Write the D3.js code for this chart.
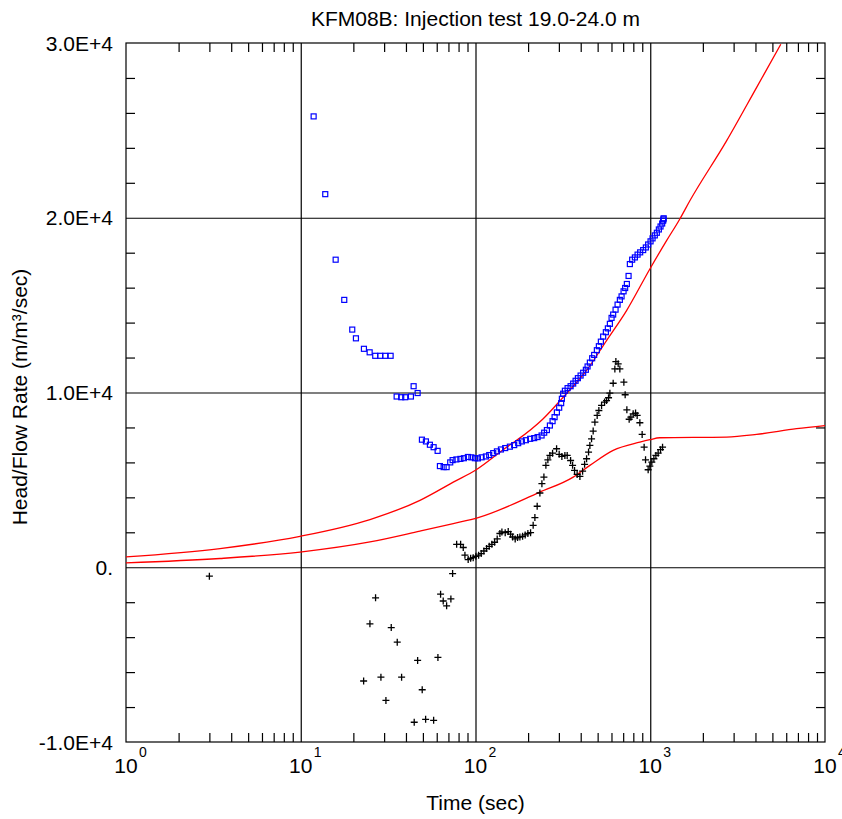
<!DOCTYPE html>
<html>
<head>
<meta charset="utf-8">
<script src="https://cdn.jsdelivr.net/npm/d3@7"></script>
<style>
  body { margin: 0; background: #fff; }
  svg text { font-family: "Liberation Sans", Arial, sans-serif; fill: #000; }
</style>
</head>
<body>
<div id="chart"></div>
<script>
// measured head/flow (blue squares)
var blueT = [11.85, 13.81, 15.84, 17.74, 19.71, 20.69, 22.99, 24.79, 26.68, 28.5,
  30.44, 32.68, 35.38, 37.58, 39.62, 42.7, 44.25, 46.65, 49.36, 52.03,
  54.83, 57.59, 60.71, 62.57, 65.7, 68.35, 71.67, 73.96, 77.75, 81.95,
  85.8, 90.45, 94.75, 99.2, 103.2, 108.4, 114.7, 119.8, 126.3, 132.6,
  139.8, 147.9, 157.3, 166.5, 175.5, 184.2, 194.2, 205.6, 216.7, 226.6,
  238.9, 247.2, 256.2, 266.5, 276.1, 283.5, 292.2, 301.2, 309.2, 312.1,
  317.5, 324.7, 336.5, 350.1, 362.3, 373.9, 385.4, 399.4, 413.2, 428.2,
  437.9, 451.3, 465.2, 477.6, 494.9, 508.1, 521.7, 537.7, 557.2, 572.1,
  587.4, 600.7, 613.5, 633.2, 650.1, 670.1, 685.3, 703.6, 718.5, 734.8,
  751.5, 764.4, 788, 816.6, 846.2, 875.6, 910.9, 943.7, 972.7, 1004,
  1031, 1062, 1091, 1120, 1145, 1170, 1185, 1190, 1193];
var blueV = [25800, 21350, 17600, 15300, 13600, 13100, 12500, 12300, 12100, 12100,
  12100, 12100, 9770, 9730, 9730, 9770, 10360, 9970, 7300, 7200,
  7010, 6870, 6660, 5790, 5730, 5730, 6000, 6130, 6170, 6200,
  6240, 6310, 6290, 6240, 6230, 6290, 6340, 6420, 6530, 6630,
  6740, 6820, 6900, 6990, 7100, 7200, 7270, 7350, 7390, 7450,
  7540, 7700, 7850, 8110, 8360, 8590, 8860, 9130, 9390, 9640,
  9930, 10100, 10250, 10360, 10510, 10670, 10820, 10970, 11130, 11300,
  11490, 11710, 11960, 12150, 12420, 12650, 12910, 13200, 13450, 13670,
  13930, 14270, 14460, 14740, 15030, 15300, 15500, 15790, 15980, 16210,
  16670, 17350, 17600, 17730, 17890, 18020, 18150, 18300, 18470, 18650,
  18820, 18990, 19140, 19330, 19500, 19670, 19830, 19910, 19970];

// derivative (black crosses)
var plusT = [3.0, 22.9, 24.88, 26.8, 28.76, 30.72, 32.95, 35.66, 37.77, 44.6,
  46.65, 49.55, 51.83, 57.6, 60.95, 63.13, 65.35, 68.35, 72.3, 73.96,
  78, 82.2, 85.1, 87, 90.8, 93.8, 97, 100.5, 104.2, 107.8,
  111.7, 115.7, 119.8, 124.1, 128.6, 133.1, 137.9, 141.6, 147.9, 153.9,
  158.8, 163.1, 168.7, 174.1, 179.5, 186, 192.4, 199.4, 206.6, 213.8,
  218.7, 225.4, 233.6, 239.9, 246.3, 252.8, 259.5, 266.5, 276.1, 291.1,
  301.2, 312.1, 324.7, 334.7, 350.1, 359.4, 368.8, 381.6, 395.8, 410.1,
  421, 432.2, 443.6, 451.3, 461.5, 471.4, 482.1, 496.9, 508.1, 526.5,
  547.7, 562.3, 577.3, 587.4, 613.5, 627.4, 635.7, 655.3, 670, 706.3,
  718.5, 734.8, 757.5, 774.6, 798.4, 824, 841.6, 872, 898.8, 922.7,
  939.8, 972.7, 994.7, 1021, 1049, 1077, 1110, 1145, 1176];
var plusV = [-510, -6510, -3240, -1750, -6290, -7620, -3450, -4290, -6290, -8870,
  -5330, -7010, -8700, -8760, -5160, -1540, -1930, -2210, -1810, -360,
  1310, 1310, 1130, 690, 440, 510, 550, 630, 690, 780,
  930, 1070, 1200, 1310, 1430, 1620, 1930, 2020, 1980, 2040,
  1890, 1730, 1620, 1700, 1730, 1770, 1850, 1930, 1980, 2400,
  2840, 3490, 4250, 4780, 5160, 5830, 6150, 6400, 6530, 6780,
  6460, 6340, 6400, 6400, 6110, 5830, 5540, 5310, 5200, 5500,
  5890, 6210, 6590, 6970, 7350, 7790, 8300, 8690, 8970, 9260,
  9450, 9540, 9700, 9960, 10530, 11350, 11770, 11640, 11350, 10590,
  9870, 9010, 8470, 8590, 8780, 8820, 8690, 8270, 7600, 6870,
  6150, 5580, 5790, 6020, 6210, 6400, 6530, 6730, 6870];

// type curve fits (red)
var fitAT = [1, 3.45, 9.9, 24.9, 48.1, 74.6, 100.9, 150.6, 171.8, 244, 317.5, 432, 562, 732, 995, 1240, 1477, 1685, 2733, 4057, 5586];
var fitAV = [590, 1070, 1770, 2730, 3830, 4870, 5580, 6870, 7260, 8500, 9730, 11260, 12970, 14690, 17070, 18690, 19930, 20970, 24400, 27450, 29930];
var fitBT = [1, 3.45, 9.9, 24.9, 48.1, 74.6, 103.6, 233.6, 362.3, 451.3, 613.5, 872, 995, 1134, 2733, 4057, 6871, 10000];
var fitBV = [250, 500, 870, 1450, 2070, 2500, 2840, 4300, 5160, 5830, 6690, 7160, 7300, 7410, 7450, 7600, 7930, 8110];

var decades = [1, 10, 100, 1000, 10000];
var yLabels = [30000, 20000, 10000, 0, -10000];

var w = 842, h = 819;
var pLeft = 126, pRight = 825, pTop = 43, pBottom = 742;

var x = d3.scaleLog().domain([1, 1e4]).range([pLeft, pRight]);
var y = d3.scaleLinear().domain([-1e4, 3e4]).range([pBottom, pTop]);

var svg = d3.select('#chart').append('svg')
  .attr('width', w)
  .attr('height', h);

svg.append('defs').append('clipPath').attr('id', 'plot-clip')
  .append('rect')
  .attr('x', pLeft).attr('y', pTop)
  .attr('width', pRight - pLeft).attr('height', pBottom - pTop);

var minorX = [];
decades.slice(0, 4).forEach(function(d) {
  for (var k = 2; k <= 9; k++) minorX.push(d * k);
});
var minorY = d3.range(-10000, 30001, 2000).filter(function(v) { return v % 10000 !== 0; });

function clean(g) {
  g.select('.domain').remove();
  g.selectAll('line').attr('stroke', '#000').attr('stroke-width', 1.2);
}

// grid
svg.append('g')
  .attr('transform', 'translate(0,' + pBottom + ')')
  .call(d3.axisBottom(x).tickValues([10, 100, 1000]).tickSize(-(pBottom - pTop)).tickFormat(''))
  .call(clean);
svg.append('g')
  .attr('transform', 'translate(' + pLeft + ',0)')
  .call(d3.axisLeft(y).tickValues([0, 10000, 20000]).tickSize(-(pRight - pLeft)).tickFormat(''))
  .call(clean);

// minor ticks, inward on all four sides
svg.append('g')
  .attr('transform', 'translate(0,' + pBottom + ')')
  .call(d3.axisBottom(x).tickValues(minorX).tickSize(-9).tickFormat(''))
  .call(clean);
svg.append('g')
  .attr('transform', 'translate(0,' + pTop + ')')
  .call(d3.axisTop(x).tickValues(minorX).tickSize(-9).tickFormat(''))
  .call(clean);
svg.append('g')
  .attr('transform', 'translate(' + pLeft + ',0)')
  .call(d3.axisLeft(y).tickValues(minorY).tickSize(-9).tickFormat(''))
  .call(clean);
svg.append('g')
  .attr('transform', 'translate(' + pRight + ',0)')
  .call(d3.axisRight(y).tickValues(minorY).tickSize(-9).tickFormat(''))
  .call(clean);

svg.append('rect')
  .attr('x', pLeft).attr('y', pTop)
  .attr('width', pRight - pLeft).attr('height', pBottom - pTop)
  .attr('fill', 'none')
  .attr('stroke', '#000')
  .attr('stroke-width', 1.2);

// red fits
var line = d3.line()
  .x(function(d) { return x(d[0]); })
  .y(function(d) { return y(d[1]); })
  .curve(d3.curveMonotoneX);

[[fitAT, fitAV], [fitBT, fitBV]].forEach(function(s) {
  svg.append('path')
    .datum(s[0].map(function(t, i) { return [t, s[1][i]]; }))
    .attr('clip-path', 'url(#plot-clip)')
    .attr('d', line)
    .attr('fill', 'none')
    .attr('stroke', '#ff0000')
    .attr('stroke-width', 1.3);
});

// crosses
svg.append('g').selectAll('path')
  .data(plusT.map(function(t, i) { return [t, plusV[i]]; }))
  .enter()
  .append('path')
  .attr('d', function(d) {
    var cx = x(d[0]), cy = y(d[1]);
    return 'M' + (cx - 3.5) + ',' + cy + 'h7M' + cx + ',' + (cy - 3.5) + 'v7';
  })
  .attr('stroke', '#000')
  .attr('stroke-width', 1.3);

// squares
svg.append('g').selectAll('rect')
  .data(blueT.map(function(t, i) { return [t, blueV[i]]; }))
  .enter()
  .append('rect')
  .attr('x', function(d) { return x(d[0]) - 2.5; })
  .attr('y', function(d) { return y(d[1]) - 2.5; })
  .attr('width', 5)
  .attr('height', 5)
  .attr('fill', 'none')
  .attr('stroke', '#0000ff')
  .attr('stroke-width', 1.2);

// x tick labels 10^n
decades.forEach(function(d, i) {
  svg.append('text')
    .attr('x', x(d)).attr('y', 773)
    .attr('text-anchor', 'middle')
    .style('font-size', '21px')
    .text('10');
  svg.append('text')
    .attr('x', x(d) + 13).attr('y', 757)
    .style('font-size', '14px')
    .text(String(i));
});

// y tick labels
yLabels.forEach(function(v) {
  svg.append('text')
    .attr('x', 113).attr('y', y(v) + 7.5)
    .attr('text-anchor', 'end')
    .style('font-size', '21px')
    .text(v === 0 ? '0.' : (v / 1e4).toFixed(1) + 'E+4');
});

svg.append('text')
  .attr('x', (pLeft + pRight) / 2).attr('y', 26)
  .attr('text-anchor', 'middle')
  .style('font-size', '21px')
  .text('KFM08B: Injection test 19.0-24.0 m');

svg.append('text')
  .attr('x', (pLeft + pRight) / 2).attr('y', 810)
  .attr('text-anchor', 'middle')
  .style('font-size', '21px')
  .text('Time (sec)');

svg.append('text')
  .attr('transform', 'translate(27,397) rotate(-90)')
  .attr('text-anchor', 'middle')
  .style('font-size', '21px')
  .text('Head/Flow Rate (m/m³/sec)');
</script>
</body>
</html>
